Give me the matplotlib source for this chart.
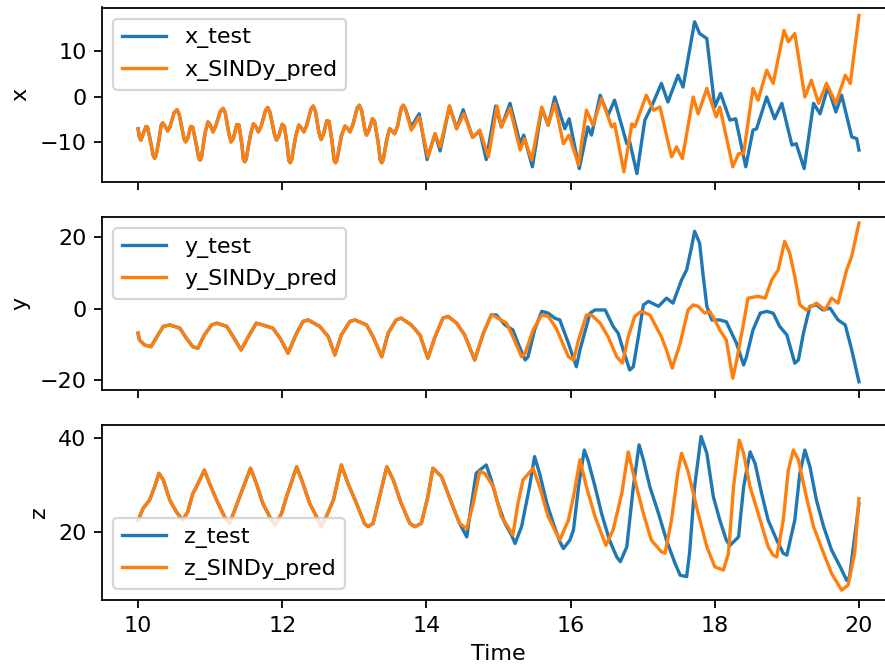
import numpy as np
import matplotlib.pyplot as plt

# values; the early part is shared because the
# SINDy prediction sits right on top of the test data there
x_early_t = [10.00, 10.02, 10.04, 10.07, 10.11, 10.13, 10.17, 10.21, 10.23, 10.25,
             10.29, 10.32, 10.34, 10.37, 10.41, 10.44, 10.50, 10.54, 10.57, 10.60,
             10.64, 10.66, 10.69, 10.73, 10.76, 10.81, 10.84, 10.86, 10.88, 10.93,
             10.97, 11.00, 11.04, 11.08, 11.14, 11.18, 11.21, 11.26, 11.29, 11.32,
             11.37, 11.40, 11.44, 11.46, 11.48, 11.50, 11.56, 11.60, 11.63, 11.67,
             11.71, 11.77, 11.80, 11.83, 11.89, 11.92, 11.95, 12.00, 12.03, 12.07,
             12.09, 12.11, 12.13, 12.19, 12.23, 12.26, 12.30, 12.34, 12.40, 12.43,
             12.46, 12.51, 12.54, 12.57, 12.62, 12.65, 12.69, 12.72, 12.74, 12.76,
             12.82, 12.87, 12.90, 12.94, 12.98, 13.04, 13.07, 13.10, 13.15, 13.17,
             13.20, 13.25, 13.28, 13.33, 13.36, 13.38, 13.40, 13.45, 13.49, 13.52,
             13.56, 13.60, 13.65, 13.68, 13.71]
x_early = [-7.1, -9.0, -9.6, -8.3, -6.6, -6.7, -9.6, -13.0, -13.6, -13.0,
           -9.6, -6.4, -5.8, -6.4, -7.6, -6.8, -3.6, -2.9, -3.9, -6.3,
           -9.4, -10.0, -9.2, -6.6, -6.8, -10.8, -13.5, -14.0, -13.4, -8.0,
           -5.6, -6.2, -7.8, -6.4, -3.3, -2.6, -3.6, -8.2, -10.0, -9.3,
           -6.2, -6.3, -10.5, -13.8, -14.4, -13.8, -8.4, -6.0, -6.5, -7.8,
           -6.4, -3.0, -2.4, -3.5, -8.2, -9.6, -8.8, -6.1, -6.6, -10.8,
           -14.0, -14.6, -14.0, -8.5, -6.3, -6.8, -7.8, -6.3, -2.7, -2.1,
           -3.2, -8.0, -9.5, -8.4, -5.3, -5.5, -9.8, -14.0, -14.6, -14.0,
           -8.7, -6.5, -6.9, -7.8, -6.2, -2.5, -1.9, -3.0, -7.6, -8.5,
           -7.6, -4.9, -5.4, -10.0, -14.0, -14.6, -14.0, -9.5, -7.1, -7.5,
           -8.2, -6.5, -2.6, -1.9, -2.8]

x_test_t = [13.79, 13.90, 14.01, 14.12, 14.19, 14.32, 14.42, 14.51, 14.64, 14.74,
            14.83, 14.96, 15.04, 15.16, 15.30, 15.35, 15.47, 15.60, 15.69, 15.78,
            15.92, 15.98, 16.12, 16.24, 16.29, 16.41, 16.52, 16.61, 16.78, 16.82,
            16.92, 17.03, 17.12, 17.26, 17.35, 17.49, 17.56, 17.65, 17.72, 17.79,
            17.89, 18.00, 18.08, 18.21, 18.29, 18.43, 18.53, 18.58, 18.72, 18.83,
            18.93, 19.07, 19.13, 19.24, 19.37, 19.46, 19.57, 19.68, 19.76, 19.90,
            19.97, 20.00]
x_test_late = [-6.7, -3.8, -13.9, -8.2, -12.0, -2.1, -7.1, -2.9, -9.0, -7.6,
               -13.9, -2.1, -6.7, -1.5, -10.4, -8.5, -15.5, -2.6, -6.3, -0.1,
               -7.1, -4.9, -15.9, -6.7, -8.5, 0.3, -4.1, -0.8, -10.4, -10.0,
               -17.0, -5.2, -2.3, 2.9, -1.2, 4.7, 2.1, 10.2, 16.5, 13.9,
               12.8, -2.3, 0.7, -5.2, -4.9, -15.5, -7.4, -7.1, -0.1, -4.9,
               -1.5, -10.7, -10.4, -15.9, -1.5, -3.8, 2.1, -3.4, 0.3, -8.9,
               -9.3, -11.8]

x_pred_t = [13.79, 13.90, 14.02, 14.12, 14.19, 14.32, 14.42, 14.52, 14.64, 14.74,
            14.86, 14.98, 15.04, 15.16, 15.30, 15.36, 15.46, 15.60, 15.69, 15.78,
            15.90, 15.98, 16.11, 16.22, 16.31, 16.43, 16.57, 16.61, 16.74, 16.85,
            16.89, 17.05, 17.15, 17.24, 17.40, 17.47, 17.55, 17.70, 17.77, 17.89,
            18.02, 18.07, 18.25, 18.33, 18.40, 18.53, 18.60, 18.72, 18.81, 18.96,
            19.02, 19.11, 19.25, 19.34, 19.44, 19.55, 19.68, 19.81, 19.88, 20.00]
x_pred_late = [-7.4, -4.5, -13.3, -8.2, -11.1, -2.1, -7.1, -3.8, -9.0, -7.4,
               -13.3, -2.1, -6.7, -2.6, -11.8, -9.3, -14.0, -2.3, -6.3, -1.5,
               -10.4, -8.5, -15.1, -3.0, -6.3, -0.4, -6.7, -6.0, -16.6, -6.0,
               -6.7, 0.3, -3.0, -2.3, -13.3, -11.1, -13.7, -0.1, -3.8, 1.8,
               -4.5, -2.3, -15.5, -12.6, -12.6, 1.8, -0.8, 5.8, 2.9, 14.6,
               12.1, 13.9, -0.1, 3.6, -1.5, 2.9, -1.5, 4.7, 2.9, 17.9]

y_early_t = [10.00, 10.02, 10.09, 10.18, 10.25, 10.35, 10.44, 10.58, 10.67, 10.76,
             10.83, 10.92, 11.02, 11.09, 11.23, 11.32, 11.43, 11.53, 11.64, 11.73,
             11.87, 11.97, 12.08, 12.20, 12.29, 12.36, 12.52, 12.64, 12.73, 12.82,
             12.94, 13.01, 13.17, 13.26, 13.38, 13.47, 13.58, 13.65, 13.79, 13.91,
             14.02, 14.12, 14.23, 14.30, 14.42, 14.53, 14.67, 14.79, 14.90]
y_early = [-6.9, -8.8, -10.2, -10.7, -8.3, -5.0, -4.6, -5.5, -8.3, -10.7,
           -11.1, -7.4, -4.6, -4.1, -5.0, -7.9, -11.6, -7.9, -4.1, -4.6,
           -5.5, -8.3, -12.5, -6.9, -3.6, -3.2, -5.0, -7.9, -13.0, -7.4,
           -3.6, -3.2, -4.6, -7.9, -13.5, -6.9, -3.2, -2.7, -4.6, -7.4,
           -13.9, -7.9, -2.7, -2.2, -4.1, -7.4, -14.4, -6.9, -1.8]

y_test_t = [14.97, 15.09, 15.20, 15.27, 15.37, 15.41, 15.50, 15.60, 15.69, 15.78,
            15.85, 15.97, 16.08, 16.13, 16.27, 16.34, 16.48, 16.59, 16.66, 16.73,
            16.82, 16.87, 16.94, 17.01, 17.08, 17.22, 17.33, 17.42, 17.54, 17.61,
            17.68, 17.72, 17.79, 17.84, 17.89, 17.96, 18.07, 18.16, 18.30, 18.40,
            18.44, 18.53, 18.63, 18.72, 18.81, 18.90, 19.00, 19.11, 19.16, 19.23,
            19.32, 19.41, 19.50, 19.60, 19.71, 19.81, 19.90, 20.00]
y_test_late = [-1.8, -4.6, -6.0, -9.7, -14.4, -13.5, -6.0, -0.8, -1.3, -2.7,
               -3.2, -9.7, -16.3, -11.6, -1.3, -0.4, -0.4, -5.0, -6.9, -11.6,
               -17.2, -16.3, -7.9, 1.0, 2.0, 0.6, 2.9, 1.5, 8.0, 10.8,
               17.4, 21.6, 18.3, 9.0, 0.6, -3.2, -3.2, -3.7, -9.7, -15.8,
               -13.5, -6.0, -1.3, -0.8, -1.3, -5.0, -7.4, -15.3, -14.4, -6.9,
               0.6, 1.0, -0.4, 0.1, -3.2, -4.6, -11.6, -20.5]

y_pred_t = [14.95, 15.11, 15.20, 15.32, 15.37, 15.48, 15.60, 15.69, 15.80, 15.97,
            16.04, 16.11, 16.22, 16.29, 16.41, 16.52, 16.64, 16.72, 16.80, 16.89,
            16.98, 17.10, 17.26, 17.33, 17.41, 17.52, 17.63, 17.70, 17.77, 17.86,
            17.93, 18.00, 18.07, 18.16, 18.25, 18.30, 18.40, 18.46, 18.60, 18.70,
            18.79, 18.88, 18.97, 19.04, 19.11, 19.18, 19.27, 19.41, 19.53, 19.62,
            19.71, 19.83, 19.90, 20.00]
y_pred_late = [-2.2, -4.1, -7.9, -13.5, -12.5, -6.0, -1.8, -2.2, -5.5, -13.5,
               -14.4, -8.8, -1.8, -1.8, -4.1, -7.9, -13.5, -15.3, -7.9, -2.2,
               -0.8, -1.8, -7.9, -11.6, -16.7, -9.7, -0.4, 1.0, 0.6, -1.3,
               -0.8, -3.2, -6.0, -8.8, -19.5, -14.9, -4.1, 2.9, 3.4, 2.9,
               8.0, 10.8, 18.8, 15.5, 9.0, 1.0, -0.4, 1.5, -0.4, 2.9,
               1.5, 10.8, 14.6, 23.9]

z_early_t = [10.00, 10.07, 10.16, 10.23, 10.29, 10.35, 10.44, 10.53, 10.62, 10.69,
             10.76, 10.81, 10.92, 10.99, 11.09, 11.20, 11.27, 11.34, 11.41, 11.56,
             11.64, 11.73, 11.85, 11.90, 11.99, 12.06, 12.20, 12.27, 12.38, 12.50,
             12.54, 12.61, 12.71, 12.82, 12.91, 13.03, 13.14, 13.19, 13.26, 13.35,
             13.45, 13.54, 13.65, 13.77, 13.84, 13.93, 14.02, 14.09, 14.21, 14.35,
             14.46]
z_early = [22.5, 25.0, 26.8, 29.6, 32.5, 31.1, 26.8, 24.3, 22.5, 24.3,
           28.2, 29.6, 33.2, 30.4, 26.8, 23.2, 21.8, 24.6, 27.5, 33.6,
           30.4, 26.1, 22.5, 21.4, 23.9, 27.5, 33.9, 31.1, 26.1, 22.5,
           21.1, 23.2, 26.8, 34.3, 30.4, 26.1, 21.8, 21.1, 21.8, 27.5,
           33.9, 31.1, 26.1, 21.8, 21.1, 21.8, 27.5, 33.6, 31.8, 26.1,
           21.8]

z_test_t = [14.56, 14.62, 14.69, 14.74, 14.83, 14.90, 14.99, 15.09, 15.18, 15.23,
            15.32, 15.43, 15.50, 15.57, 15.67, 15.76, 15.85, 15.90, 15.99, 16.04,
            16.11, 16.19, 16.24, 16.34, 16.43, 16.54, 16.64, 16.69, 16.78, 16.87,
            16.95, 17.01, 17.10, 17.22, 17.33, 17.45, 17.52, 17.61, 17.65, 17.72,
            17.81, 17.89, 17.98, 18.07, 18.16, 18.21, 18.33, 18.40, 18.49, 18.56,
            18.65, 18.74, 18.86, 18.95, 19.00, 19.11, 19.18, 19.25, 19.32, 19.41,
            19.51, 19.62, 19.74, 19.83, 19.87, 19.94, 20.00]
z_test_late = [18.9, 25.4, 32.5, 33.2, 34.3, 31.1, 26.1, 21.8, 19.3, 17.5,
               21.1, 29.6, 36.1, 32.5, 26.1, 21.8, 17.9, 16.4, 18.2, 20.4,
               29.6, 37.5, 35.4, 29.6, 23.9, 18.2, 14.6, 13.6, 16.8, 29.6,
               38.6, 35.4, 29.6, 23.9, 18.2, 13.2, 10.7, 10.4, 15.4, 29.6,
               40.4, 36.8, 27.5, 22.5, 18.2, 17.1, 18.9, 29.6, 37.1, 34.6,
               28.2, 22.5, 18.2, 15.4, 15.0, 22.5, 32.5, 37.5, 33.9, 26.8,
               21.1, 16.1, 12.5, 9.6, 10.4, 18.9, 26.0]

z_pred_t = [14.56, 14.65, 14.74, 14.81, 14.93, 15.04, 15.13, 15.20, 15.27, 15.34,
            15.48, 15.57, 15.69, 15.85, 15.97, 16.04, 16.13, 16.22, 16.34, 16.49,
            16.59, 16.71, 16.80, 16.89, 17.01, 17.12, 17.26, 17.31, 17.40, 17.49,
            17.54, 17.63, 17.77, 17.89, 18.00, 18.12, 18.19, 18.26, 18.34, 18.40,
            18.49, 18.63, 18.74, 18.81, 18.86, 18.95, 19.02, 19.09, 19.16, 19.27,
            19.37, 19.51, 19.62, 19.76, 19.85, 19.94, 20.00]
z_pred_late = [20.7, 26.1, 32.9, 32.5, 29.6, 23.2, 21.1, 19.3, 26.1, 31.1,
               33.6, 29.6, 23.2, 18.2, 22.5, 27.5, 35.4, 29.6, 23.2, 17.1,
               20.4, 28.2, 37.1, 31.1, 23.9, 18.2, 15.7, 15.4, 22.5, 32.9,
               36.8, 32.9, 23.9, 16.8, 12.5, 11.8, 15.4, 29.6, 39.6, 36.8,
               29.6, 22.5, 16.8, 15.0, 14.6, 22.5, 33.2, 37.5, 35.4, 27.5,
               21.1, 15.4, 11.1, 7.5, 8.6, 15.4, 27.1]

names = ["x", "y", "z"]
early = [(x_early_t, x_early), (y_early_t, y_early), (z_early_t, z_early)]
test = [(x_test_t, x_test_late), (y_test_t, y_test_late), (z_test_t, z_test_late)]
pred = [(x_pred_t, x_pred_late), (y_pred_t, y_pred_late), (z_pred_t, z_pred_late)]
ylims = [(-18.85, 19.65), (-22.8, 25.6), (5.4, 42.85)]
yticks = [[-10, 0, 10], [-20, 0, 20], [20, 40]]
legend_loc = ["upper left", "upper left", "lower left"]

DPI = 160
fig = plt.figure(figsize=(885 / DPI, 667 / DPI), dpi=DPI)
# panel boxes in pixels (top, bottom); right edge runs past the crop like the original
boxes = [(7.5, 182), (217, 390), (425, 600)]
left, right = 102, 895

axes = []
for i, (top, bottom) in enumerate(boxes):
    rect = [left / 885, 1 - bottom / 667, (right - left) / 885, (bottom - top) / 667]
    ax = fig.add_axes(rect, sharex=axes[0] if axes else None)
    axes.append(ax)

    t0, v0 = early[i]
    t1, v1 = test[i]
    t2, v2 = pred[i]
    ax.plot(np.r_[t0, t1], np.r_[v0, v1], label=f"{names[i]}_test")
    ax.plot(np.r_[t0, t2], np.r_[v0, v2], label=f"{names[i]}_SINDy_pred")
    ax.set_ylabel(names[i])
    ax.set_ylim(*ylims[i])
    ax.set_yticks(yticks[i])
    ax.legend(loc=legend_loc[i])
    if i < 2:
        ax.tick_params(labelbottom=False)

axes[0].set_xlim(9.5, 20.5)
axes[-1].set_xlabel("Time")

fig.savefig("out.png", dpi=DPI)
